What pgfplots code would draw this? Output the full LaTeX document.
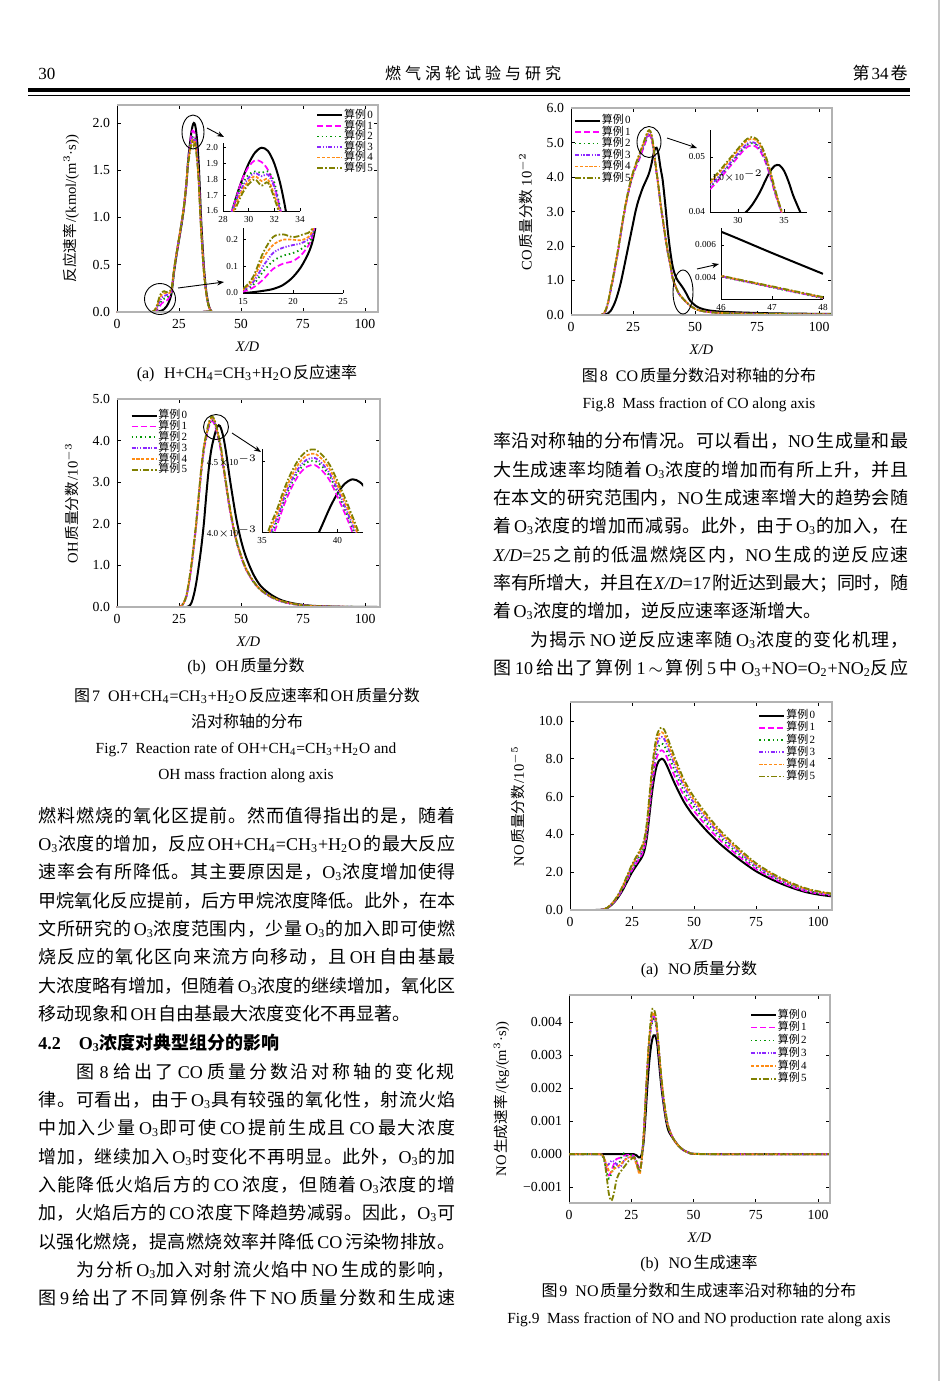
\documentclass[border=0pt]{standalone}
\usepackage{fontspec}
\setmainfont{Liberation Serif}
\newfontfamily\cjkfont{Noto Sans CJK SC}
\usepackage{pgfplots}
\pgfplotsset{compat=1.18}
\usepackage{pgfplotstable}
\usetikzlibrary{arrows.meta}

% ---- automatic CJK font switching ----
\XeTeXinterchartokenstate=1
\newXeTeXintercharclass\CJKcls
\newXeTeXintercharclass\CJKpcls
\newcount\cjkcnt
\def\cjkrange#1#2#3{\cjkcnt=#1\relax\loop\XeTeXcharclass\cjkcnt=#3\relax\ifnum\cjkcnt<#2\advance\cjkcnt by 1\relax\repeat}
\cjkrange{"3000}{"303F}{\CJKpcls}
\cjkrange{"4E00}{"9FFF}{\CJKcls}
\cjkrange{"FF01}{"FF5E}{\CJKpcls}
\def\cjkglue{\hskip 0pt plus 1pt minus 0.2pt\relax}
\def\ecglue{\hskip 0.12em plus 0.1em minus 0.05em\relax}
\XeTeXinterchartoks 0 \CJKcls = {\ecglue\begingroup\cjkfont}
\XeTeXinterchartoks 0 \CJKpcls = {\begingroup\cjkfont}
\XeTeXinterchartoks 4095 \CJKcls = {\begingroup\cjkfont}
\XeTeXinterchartoks 4095 \CJKpcls = {\begingroup\cjkfont}
\XeTeXinterchartoks \CJKcls 0 = {\endgroup\ecglue}
\XeTeXinterchartoks \CJKpcls 0 = {\endgroup}
\XeTeXinterchartoks \CJKcls 4095 = {\endgroup}
\XeTeXinterchartoks \CJKpcls 4095 = {\endgroup}
\XeTeXinterchartoks \CJKcls \CJKcls = {\cjkglue}
\XeTeXinterchartoks \CJKcls \CJKpcls = {\cjkglue}
\XeTeXinterchartoks \CJKpcls \CJKcls = {\cjkglue}
\XeTeXinterchartoks \CJKpcls \CJKpcls = {\cjkglue}

\newcommand\sub[1]{\textsubscript{#1}}
\newcommand\Ot{O\textsubscript{3}}
\newcommand\bodyfont{\fontsize{9}{11}\selectfont}
\newcommand\capfont{\fontsize{8}{9.6}\selectfont}
\newcommand\encapfont{\fontsize{7.7}{9.2}\selectfont}

\definecolor{cMag}{RGB}{255,0,255}
\definecolor{cGreen}{RGB}{0,150,0}
\definecolor{cViolet}{RGB}{140,40,255}
\definecolor{cOrange}{RGB}{255,140,20}
\definecolor{cOlive}{RGB}{128,128,0}

\pgfplotsset{
 s0/.style={black, line width=1pt, solid, smooth},
 s1/.style={cMag, line width=0.85pt, dash pattern=on 3pt off 1.5pt, smooth},
 s2/.style={cGreen, line width=0.9pt, dash pattern=on 0.7pt off 1.5pt, smooth},
 s3/.style={cViolet, line width=0.9pt, dash pattern=on 2pt off 0.8pt on 0.6pt off 0.8pt on 0.6pt off 0.8pt, smooth},
 s4/.style={cOrange, line width=0.85pt, dash pattern=on 1.6pt off 0.8pt, smooth},
 s5/.style={cOlive, line width=0.9pt, dash pattern=on 3pt off 1pt on 0.8pt off 1pt, smooth},
 mainax/.style={scale only axis, anchor=south west, ymin=0, xmin=0,
   xtick={0,25,50,75,100},
   tick label style={font=\fontsize{6.9}{7.5}\selectfont},
   /pgf/number format/assume math mode=true,
   label style={font=\fontsize{7.3}{8}\selectfont},
   xlabel={\textit{X/D}},
   major tick length=2.2pt,
   tick style={black, line width=0.35pt},
   axis line style={line width=0.4pt},
   yticklabel style={/pgf/number format/fixed, /pgf/number format/fixed zerofill, /pgf/number format/precision=1},
   scaled ticks=false,
   legend cell align=left,
   legend image code/.code={\draw[##1] (0pt,0pt) -- (12.5pt,0pt);},
   legend style={draw=none, fill=none, font=\fontsize{5.5}{5.8}\selectfont, inner sep=0pt, nodes={inner sep=0.4pt}, row sep=-1pt},
   legend entries={算例0,算例1,算例2,算例3,算例4,算例5},
 },
 insetax/.style={scale only axis, anchor=south west, axis lines*=left,
   tick label style={font=\fontsize{4.6}{5}\selectfont},
   /pgf/number format/assume math mode=true,
   major tick length=1.5pt, tick style={black, line width=0.3pt},
   axis line style={line width=0.4pt}, scaled ticks=false,
   xticklabel style={yshift=1pt}, yticklabel style={xshift=1pt}},
}

\newcommand\sixplots[1]{%
 \addplot[s0] table[x=x,y=c0]{#1};
 \addplot[s1] table[x=x,y=c1]{#1};
 \addplot[s2] table[x=x,y=c2]{#1};
 \addplot[s3] table[x=x,y=c3]{#1};
 \addplot[s4] table[x=x,y=c4]{#1};
 \addplot[s5] table[x=x,y=c5]{#1};
}

% Fig 7a: H+CH4=CH3+H2O reaction rate
\pgfplotstableread{
x     c0    c1    c2    c3    c4    c5
0     0     0     0     0     0     0
10    0     0     0     0     0     0
14    0     0     0     0     0     0
15    0     0.005 0.01  0.01  0.012 0.015
16    0.003 0.02  0.03  0.04  0.05  0.06
17    0.008 0.05  0.08  0.10  0.13  0.15
18    0.015 0.09  0.12  0.15  0.18  0.21
19    0.03  0.11  0.14  0.17  0.20  0.22
20    0.06  0.12  0.15  0.18  0.20  0.21
21    0.11  0.15  0.17  0.19  0.20  0.22
22    0.20  0.22  0.22  0.23  0.24  0.25
23    0.42  0.43  0.43  0.44  0.45  0.45
24    0.60  0.61  0.61  0.62  0.62  0.62
25    0.76  0.77  0.77  0.78  0.78  0.78
26    0.92  0.93  0.93  0.94  0.94  0.94
27    1.10  1.11  1.11  1.12  1.12  1.12
28    1.35  1.36  1.37  1.37  1.37  1.37
28.5  1.53  1.55  1.55  1.54  1.53  1.52
29    1.68  1.68  1.68  1.66  1.64  1.62
29.5  1.80  1.80  1.77  1.75  1.73  1.71
30    1.90  1.88  1.83  1.81  1.79  1.77
30.5  1.97  1.92  1.85  1.84  1.82  1.80
31    2.00  1.91  1.84  1.82  1.79  1.76
31.5  1.98  1.86  1.85  1.83  1.80  1.78
32    1.90  1.76  1.78  1.75  1.70  1.68
32.5  1.76  1.60  1.60  1.58  1.57  1.55
33    1.55  1.42  1.40  1.38  1.37  1.35
33.5  1.25  1.15  1.12  1.10  1.10  1.08
34    0.95  0.88  0.86  0.85  0.84  0.83
35    0.50  0.46  0.45  0.45  0.44  0.44
36    0.22  0.20  0.20  0.20  0.20  0.20
37    0.07  0.06  0.06  0.06  0.06  0.06
38    0.01  0.01  0.01  0.01  0.01  0.01
39    0     0     0     0     0     0
105   0     0     0     0     0     0
}\tA

% Fig 7b: OH mass fraction (1e-3)
\pgfplotstableread{
x     c0    c1    c2    c3    c4    c5
0     0     0     0     0     0     0
20    0     0     0     0     0     0
25    0     0     0     0     0     0
26    0     0.03  0.03  0.03  0.03  0.04
27    0     0.10  0.10  0.11  0.11  0.12
28    0     0.25  0.26  0.27  0.28  0.29
29    0.02  0.55  0.57  0.58  0.60  0.62
30    0.10  0.95  0.97  0.99  1.01  1.03
31    0.30  1.45  1.47  1.49  1.51  1.53
32    0.60  2.00  2.02  2.04  2.06  2.08
33    1.00  2.65  2.67  2.69  2.71  2.73
34    1.45  3.25  3.28  3.30  3.33  3.36
35    2.00  3.75  3.78  3.80  3.83  3.86
35.5  2.35  3.92  3.95  3.97  4.00  4.03
36    2.70  4.05  4.08  4.10  4.13  4.16
36.5  3.03  4.20  4.23  4.25  4.28  4.31
37    3.33  4.32  4.35  4.37  4.40  4.43
37.5  3.58  4.41  4.44  4.46  4.49  4.52
38    3.78  4.46  4.49  4.51  4.54  4.57
38.5  3.93  4.47  4.50  4.52  4.55  4.58
39    4.05  4.43  4.46  4.48  4.51  4.54
39.5  4.17  4.36  4.39  4.41  4.44  4.47
40    4.27  4.25  4.28  4.30  4.33  4.36
40.5  4.34  4.13  4.16  4.18  4.21  4.24
41    4.37  4.00  4.03  4.05  4.08  4.11
41.5  4.35  3.86  3.89  3.91  3.94  3.97
42    4.28  3.70  3.73  3.75  3.78  3.81
43    4.05  3.30  3.32  3.33  3.35  3.37
44    3.70  2.90  2.92  2.93  2.95  2.97
45    3.28  2.50  2.52  2.53  2.55  2.57
46    2.88  2.15  2.17  2.18  2.20  2.22
48    2.15  1.60  1.61  1.62  1.63  1.64
50    1.60  1.20  1.21  1.22  1.23  1.24
52    1.20  0.90  0.91  0.91  0.92  0.93
55    0.78  0.60  0.60  0.61  0.61  0.62
58    0.50  0.40  0.40  0.41  0.41  0.41
62    0.30  0.24  0.24  0.24  0.25  0.25
66    0.17  0.14  0.14  0.14  0.15  0.15
70    0.10  0.08  0.08  0.08  0.09  0.09
75    0.05  0.04  0.04  0.04  0.04  0.04
80    0.025 0.02  0.02  0.02  0.02  0.02
90    0.006 0.005 0.005 0.005 0.005 0.005
106   0     0     0     0     0     0
}\tB

% Fig 8: CO mass fraction (1e-2)
\pgfplotstableread{
x     c0    c1    c2    c3    c4    c5
0     0     0     0     0     0     0
10    0     0     0     0     0     0
12    0     0     0     0     0     0
13    0     0.03  0.03  0.03  0.04  0.04
14    0.02  0.12  0.13  0.13  0.14  0.15
15    0.05  0.35  0.36  0.37  0.38  0.40
16    0.12  0.70  0.72  0.73  0.75  0.77
17    0.25  1.05  1.07  1.08  1.10  1.12
18    0.42  1.45  1.47  1.48  1.50  1.52
19    0.65  1.85  1.87  1.88  1.90  1.92
20    0.92  2.30  2.32  2.33  2.35  2.37
21    1.25  2.75  2.77  2.78  2.80  2.82
22    1.60  3.15  3.17  3.18  3.20  3.22
23    1.95  3.50  3.52  3.53  3.55  3.57
24    2.30  3.80  3.82  3.83  3.86  3.88
25    2.65  4.05  4.08  4.09  4.12  4.14
26    3.00  4.25  4.29  4.30  4.34  4.36
27    3.28  4.42  4.46  4.48  4.53  4.56
28    3.50  4.60  4.64  4.66  4.72  4.75
29    3.70  4.80  4.84  4.86  4.92  4.95
30    3.86  5.00  5.04  5.06  5.12  5.15
30.5  3.94  5.10  5.14  5.16  5.22  5.25
31    4.02  5.18  5.22  5.24  5.30  5.33
31.5  4.12  5.21  5.25  5.27  5.33  5.36
32    4.25  5.18  5.22  5.24  5.30  5.33
32.5  4.40  5.08  5.12  5.14  5.19  5.22
33    4.58  4.90  4.93  4.95  4.99  5.02
33.5  4.74  4.65  4.68  4.70  4.73  4.75
34    4.84  4.35  4.37  4.39  4.41  4.43
34.5  4.85  4.10  4.11  4.12  4.13  4.14
35    4.75  3.85  3.86  3.87  3.88  3.89
35.5  4.55  3.55  3.56  3.57  3.58  3.59
36    4.30  3.25  3.26  3.27  3.28  3.29
36.5  4.10  2.98  2.99  3.00  3.01  3.02
37    3.88  2.75  2.76  2.77  2.78  2.79
38    3.20  2.25  2.26  2.27  2.28  2.29
39    2.45  1.80  1.81  1.82  1.83  1.84
40    1.85  1.45  1.46  1.46  1.47  1.48
41    1.40  1.05  1.05  1.06  1.06  1.07
42    1.15  0.85  0.85  0.85  0.86  0.86
43    1.00  0.68  0.68  0.68  0.69  0.69
44    0.90  0.56  0.56  0.56  0.57  0.57
45    0.80  0.48  0.48  0.48  0.48  0.49
46    0.683 0.406 0.404 0.405 0.407 0.409
47    0.55  0.337 0.336 0.338 0.340 0.342
48    0.42  0.270 0.268 0.270 0.272 0.275
50    0.28  0.18  0.18  0.18  0.18  0.18
52    0.20  0.13  0.13  0.13  0.13  0.13
55    0.14  0.09  0.09  0.09  0.09  0.09
60    0.10  0.06  0.06  0.06  0.06  0.06
70    0.07  0.04  0.04  0.04  0.04  0.04
80    0.05  0.03  0.03  0.03  0.03  0.03
90    0.04  0.025 0.025 0.025 0.025 0.025
105.2 0.03  0.02  0.02  0.02  0.02  0.02
}\tC

% Fig 9a: NO mass fraction (1e-5)
\pgfplotstableread{
x     c0    c1    c2    c3    c4    c5
0     0     0     0     0     0     0
10    0     0     0     0     0     0
13    0.02  0.02  0.02  0.02  0.02  0.02
15    0.10  0.11  0.11  0.11  0.12  0.12
17    0.30  0.32  0.33  0.34  0.35  0.36
19    0.60  0.63  0.66  0.69  0.70  0.72
21    1.00  1.06  1.10  1.14  1.18  1.21
23    1.50  1.58  1.65  1.72  1.76  1.81
25    2.00  2.11  2.20  2.29  2.35  2.41
27    2.40  2.53  2.64  2.75  2.82  2.89
29    2.80  2.95  3.08  3.20  3.29  3.38
30    3.15  3.33  3.47  3.60  3.70  3.80
31    3.85  4.07  4.24  4.40  4.52  4.64
32    5.00  5.28  5.50  5.72  5.88  6.03
33    6.15  6.49  6.77  7.04  7.23  7.42
34    7.05  7.44  7.76  8.07  8.28  8.50
35    7.65  8.08  8.42  8.75  8.99  9.23
36    7.92  8.36  8.71  9.06  9.31  9.55
37    8.00  8.45  8.80  9.15  9.40  9.65
38    7.90  8.34  8.69  9.04  9.28  9.53
39    7.65  8.08  8.42  8.75  8.99  9.23
40    7.35  7.76  8.09  8.41  8.64  8.86
42    6.75  7.13  7.43  7.72  7.93  8.14
44    6.20  6.55  6.82  7.09  7.29  7.48
46    5.70  6.02  6.27  6.52  6.70  6.87
48    5.30  5.60  5.83  6.06  6.23  6.39
50    4.95  5.23  5.45  5.66  5.82  5.97
55    4.20  4.44  4.62  4.80  4.94  5.07
60    3.55  3.75  3.91  4.06  4.17  4.28
65    3.00  3.17  3.30  3.43  3.53  3.62
70    2.50  2.64  2.75  2.86  2.94  3.02
75    2.05  2.16  2.26  2.35  2.41  2.47
80    1.70  1.80  1.87  1.94  2.00  2.05
85    1.40  1.48  1.54  1.60  1.65  1.69
90    1.15  1.21  1.27  1.32  1.35  1.39
95    0.95  1.00  1.05  1.09  1.12  1.15
100   0.82  0.87  0.90  0.94  0.96  0.99
105.6 0.72  0.76  0.79  0.82  0.85  0.87
}\tD

% Fig 9b: NO production rate kg/(m3 s)
\pgfplotstableread{
x     c0        c1        c2        c3        c4        c5
0     0         0         0         0         0         0
12    0         0         0         0         0         0
13    0         -0.00002  -0.00002  -0.00002  -0.00002  -0.00003
14    0         -0.0001   -0.00015  -0.0001   -0.0001   -0.0001
15    0         -0.0004   -0.0005   -0.00033  -0.0003   -0.0006
16    0         -0.00064  -0.00074  -0.0003   -0.0005   -0.0012
17    0         -0.0005   -0.0006   -0.0002   -0.00055  -0.00141
18    0         -0.0003   -0.0004   -0.00022  -0.00045  -0.0012
19    0         -0.00015  -0.0003   -0.0003   -0.0004   -0.0008
20    0         -0.00012  -0.0003   -0.0004   -0.00035  -0.0006
21    0         -0.0001   -0.0001   -0.00035  -0.0003   -0.0005
22    0         -0.00005  0.00002   -0.0002   -0.0002   -0.0004
23    0         -0.00003  -0.00005  -0.00012  -0.00015  -0.0003
24    0         -0.00002  -0.00005  -0.0001   -0.0001   -0.0002
25    0         -0.00002  -0.00003  -0.00008  -0.00008  -0.00015
26    0         -0.00005  -0.00005  -0.0001   -0.0001   -0.0001
27    -0.00003  -0.0002   -0.0002   -0.00025  -0.0003   -0.0002
28    -0.0001   -0.0004   -0.00045  -0.0005   -0.00055  -0.0005
28.5  -0.0001   -0.00045  -0.0005   -0.0005   -0.0006   -0.0005
29    -0.00005  -0.0003   -0.0003   -0.0003   -0.0003   -0.0003
29.5  0.0001    0.0001    0.0001    0.0001    0.0001    0.0001
30    0.0004    0.0006    0.0006    0.0006    0.0006    0.0006
30.5  0.0009    0.0013    0.0013    0.0013    0.0013    0.0013
31    0.0015    0.0020    0.0020    0.0020    0.0020    0.0020
31.5  0.0021    0.0026    0.0026    0.0026    0.0027    0.0027
32    0.0026    0.0032    0.0032    0.0032    0.0033    0.0033
32.5  0.0030    0.0036    0.0036    0.0036    0.0037    0.0038
33    0.0033    0.0039    0.0039    0.0039    0.0040    0.0042
33.5  0.0035    0.0041    0.0040    0.0041    0.0042    0.0044
34    0.0036    0.0042    0.0041    0.0042    0.0043    0.0044
34.5  0.0036    0.0041    0.0041    0.0042    0.0042    0.0043
35    0.0035    0.0039    0.0039    0.0040    0.0040    0.0041
35.5  0.0033    0.0036    0.0036    0.0036    0.0037    0.0037
36    0.0029    0.0032    0.0032    0.0032    0.0032    0.0033
37    0.0021    0.0023    0.0023    0.0023    0.0024    0.0024
38    0.0015    0.0016    0.0016    0.0016    0.0017    0.0017
39    0.0010    0.0011    0.0011    0.0011    0.0011    0.0012
40    0.0007    0.0008    0.0008    0.0008    0.0008    0.0008
42    0.00045   0.00045   0.00045   0.00045   0.00045   0.00045
44    0.00025   0.00025   0.00025   0.00025   0.00025   0.00025
46    0.00012   0.00012   0.00012   0.00012   0.00012   0.00012
48    0.00005   0.00005   0.00005   0.00005   0.00005   0.00005
50    0.00001   0.00001   0.00001   0.00001   0.00001   0.00001
60    0         0         0         0         0         0
80    0         0         0         0         0         0
104.8 0         0         0         0         0         0
}\tE

\newcommand\JL[4]{\node[anchor=base west, inner sep=0pt] at (#1,-#2) {\bodyfont\makebox[#3][s]{#4}};}
\newcommand\NL[3]{\node[anchor=base west, inner sep=0pt] at (#1,-#2) {\bodyfont #3};}
\newcommand\CAP[3]{\node[anchor=base, inner sep=0pt] at (#1,-#2) {#3};}

\begin{document}
\begin{tikzpicture}[x=0.5pt,y=0.5pt]
\path[use as bounding box, fill=white] (0,0) rectangle (941,-1381);
\draw[gray!45, line width=1pt] (938.5,0) -- (938.5,-1381);

% header
\node[anchor=base west, inner sep=0pt] at (38,-79) {\fontsize{8.5}{10}\selectfont 30};
\node[anchor=base, inner sep=0pt] at (473,-79) {\fontsize{8}{10}\selectfont\makebox[88pt][s]{燃气涡轮试验与研究}};
\node[anchor=base east, inner sep=0pt] at (908,-79) {\fontsize{8.5}{10}\selectfont 第34卷};
\draw[line width=1.6pt] (28,-90) -- (910,-90);
\draw[line width=0.4pt] (28,-95.5) -- (910,-95.5);

% ================= Fig 7a =================
\begin{axis}[mainax, name=A, at={(58.5pt,-156pt)}, width=130.5pt, height=103.5pt,
  xmax=105.3, ymax=2.19, ytick={0,0.5,1,1.5,2},
  ylabel={反应速率/(kmol/(m$^3$·s))},
  legend style={at={(0.985,0.985)}, anchor=north east, row sep=-1.7pt}]
\sixplots{\tA}
\end{axis}
\draw[gray!60, line width=0.9pt] (A.south west) -- (A.south east) -- (A.north east) -- (A.north west);
\begin{axis}[insetax, at={(111.5pt,-105.5pt)}, width=38.5pt, height=34pt,
  xmin=28, xmax=34, ymin=1.6, ymax=2.03, xtick={28,30,32,34}, ytick={1.6,1.7,1.8,1.9,2.0},
  restrict x to domain=26:36,
  yticklabel style={/pgf/number format/fixed, /pgf/number format/fixed zerofill, /pgf/number format/precision=1}]
\sixplots{\tA}
\end{axis}
\begin{axis}[insetax, at={(121.5pt,-146.5pt)}, width=50pt, height=32.5pt,
  xmin=15, xmax=25, ymin=0, ymax=0.244, xtick={15,20,25}, ytick={0,0.1,0.2},
  restrict x to domain=13:27,
  yticklabel style={/pgf/number format/fixed, /pgf/number format/fixed zerofill, /pgf/number format/precision=1}]
\sixplots{\tA}
\end{axis}
\draw[line width=0.45pt] (193,-132) ellipse [x radius=11, y radius=17];
\draw[line width=0.45pt] (160,-299) circle [radius=15.5];
\draw[line width=0.45pt, -{Stealth[length=3.5pt]}] (207,-128) -- (224,-137);
\draw[line width=0.45pt, -{Stealth[length=3.5pt]}] (178,-288) -- (224,-282);

\CAP{247}{378}{\capfont (a)\hspace{0.6em}H+CH\sub{4}=CH\sub{3}+H\sub{2}O反应速率}

% ================= Fig 7b =================
\begin{axis}[mainax, name=B, at={(58.5pt,-303.5pt)}, width=131.5pt, height=104pt,
  xmax=106, ymax=5, ytick={0,1,2,3,4,5},
  ylabel={OH质量分数/10$^{-3}$},
  legend style={at={(0.05,0.955)}, anchor=north west, row sep=-1.55pt}]
\sixplots{\tB}
\end{axis}
\draw[gray!60, line width=0.9pt] (B.south west) -- (B.south east) -- (B.north east) -- (B.north west);
\begin{axis}[insetax, at={(131pt,-266pt)}, width=50.5pt, height=41.5pt,
  xmin=35, xmax=41.7, ymin=4.0, ymax=4.583, xtick={35,40}, ytick={4.0,4.5},
  restrict x to domain=33:44,
  yticklabels={4.0$\times$10$^{-3}$,4.5$\times$10$^{-3}$}]
\sixplots{\tB}
\end{axis}
\draw[line width=0.45pt] (216,-427) circle [radius=12.5];
\draw[line width=0.45pt, -{Stealth[length=3.5pt]}] (232,-433) -- (261,-452);
\CAP{246}{671}{\capfont (b)\hspace{0.6em}OH质量分数}
\CAP{247}{701}{\capfont 图7\hspace{0.5em}OH+CH\sub{4}=CH\sub{3}+H\sub{2}O反应速率和OH质量分数}
\CAP{247}{727}{\capfont 沿对称轴的分布}
\CAP{246}{753}{\encapfont Fig.7\hspace{0.5em}Reaction rate of OH+CH\sub{4}=CH\sub{3}+H\sub{2}O and}
\CAP{246}{779}{\encapfont OH mass fraction along axis}

% ================= Fig 8 =================
\begin{axis}[mainax, name=C, at={(285.5pt,-157.5pt)}, width=130.5pt, height=103.5pt,
  xmax=105.2, ymax=6, ytick={0,1,2,3,4,5,6},
  ylabel={CO质量分数 10$^{-2}$},
  legend style={at={(0.01,0.975)}, anchor=north west, row sep=-1.2pt}]
\sixplots{\tC}
\end{axis}
\draw[gray!60, line width=0.9pt] (C.south west) -- (C.south east) -- (C.north east) -- (C.north west);
\begin{axis}[insetax, at={(355pt,-106pt)}, width=48.5pt, height=41pt,
  xmin=26.96, xmax=37.5, ymin=4.0, ymax=5.49, xtick={30,35}, ytick={4,5},
  restrict x to domain=25:39.5,
  yticklabels={0.04,0.05}]
\sixplots{\tC}
\end{axis}
\node[inner sep=0pt, anchor=west] at (712,-176) {\fontsize{4.6}{5}\selectfont 1.0$\times$10$^{-2}$};
\begin{axis}[insetax, at={(360.5pt,-149.5pt)}, width=51pt, height=35.5pt,
  xmin=46, xmax=48, ymin=0.263, ymax=0.706, xtick={46,47,48}, ytick={0.4,0.6},
  restrict x to domain=45:49,
  yticklabels={0.004,0.006}]
\sixplots{\tC}
\end{axis}
\draw[line width=0.45pt] (649,-142) ellipse [x radius=12, y radius=15.5];
\draw[line width=0.45pt] (683,-292) ellipse [x radius=10, y radius=22];
\draw[line width=0.45pt, -{Stealth[length=3.5pt]}] (667,-138) -- (697,-148);
\draw[line width=0.45pt, -{Stealth[length=3.5pt]}] (697,-269) -- (719,-264);
\CAP{699}{381}{\capfont 图8\hspace{0.5em}CO质量分数沿对称轴的分布}
\CAP{699}{408}{\encapfont Fig.8\hspace{0.5em}Mass fraction of CO along axis}

% ================= Fig 9a =================
\begin{axis}[mainax, name=D, at={(285pt,-455pt)}, width=131pt, height=104pt,
  xmax=105.6, ymax=11, ytick={0,2,4,6,8,10},
  ylabel={NO质量分数/10$^{-5}$},
  legend style={at={(0.94,0.97)}, anchor=north east, row sep=-0.85pt}]
\sixplots{\tD}
\end{axis}
\draw[gray!60, line width=0.9pt] (D.south west) -- (D.south east) -- (D.north east) -- (D.north west);
\CAP{699}{974}{\capfont (a)\hspace{0.6em}NO质量分数}

% ================= Fig 9b =================
\begin{axis}[mainax, name=E, at={(284.5pt,-601.5pt)}, width=130.5pt, height=104pt,
  xmax=104.8, ymin=-0.00148, ymax=0.00482,
  ytick={-0.001,0,0.001,0.002,0.003,0.004},
  yticklabels={−0.001,0.000,0.001,0.002,0.003,0.004},
  ylabel={NO生成速率/(kg/(m$^3$·s))},
  legend style={at={(0.915,0.94)}, anchor=north east, row sep=-0.55pt}]
\sixplots{\tE}
\end{axis}
\draw[gray!60, line width=0.9pt] (E.south west) -- (E.south east) -- (E.north east) -- (E.north west);
\CAP{699}{1268}{\capfont (b)\hspace{0.6em}NO生成速率}
\CAP{699}{1296}{\capfont 图9\hspace{0.5em}NO质量分数和生成速率沿对称轴的分布}
\CAP{699}{1323}{\encapfont Fig.9\hspace{0.5em}Mass fraction of NO and NO production rate along axis}

% ================= left column text =================
\JL{38}{822}{208.5pt}{燃料燃烧的氧化区提前。然而值得指出的是，随着}
\JL{38}{850}{208.5pt}{\Ot{}浓度的增加，反应OH+CH\sub{4}=CH\sub{3}+H\sub{2}O的最大反应}
\JL{38}{878.5}{208.5pt}{速率会有所降低。其主要原因是，\Ot{}浓度增加使得}
\JL{38}{907}{208.5pt}{甲烷氧化反应提前，后方甲烷浓度降低。此外，在本}
\JL{38}{935}{208.5pt}{文所研究的\Ot{}浓度范围内，少量\Ot{}的加入即可使燃}
\JL{38}{963.5}{208.5pt}{烧反应的氧化区向来流方向移动，且OH自由基最}
\JL{38}{992}{208.5pt}{大浓度略有增加，但随着\Ot{}浓度的继续增加，氧化区}
\NL{38}{1020}{移动现象和OH自由基最大浓度变化不再显著。}
\NL{38}{1049}{\bfseries 4.2\hspace{1em}\Ot{}浓度对典型组分的影响}
\JL{76.5}{1078}{189pt}{图8给出了CO质量分数沿对称轴的变化规}
\JL{38}{1106}{208.5pt}{律。可看出，由于\Ot{}具有较强的氧化性，射流火焰}
\JL{38}{1134.5}{208.5pt}{中加入少量\Ot{}即可使CO提前生成且CO最大浓度}
\JL{38}{1163}{208.5pt}{增加，继续加入\Ot{}时变化不再明显。此外，\Ot{}的加}
\JL{38}{1191}{208.5pt}{入能降低火焰后方的CO浓度，但随着\Ot{}浓度的增}
\JL{38}{1219.5}{208.5pt}{加，火焰后方的CO浓度下降趋势减弱。因此，\Ot{}可}
\JL{38}{1248}{208.5pt}{以强化燃烧，提高燃烧效率并降低CO污染物排放。}
\JL{76.5}{1276}{189pt}{为分析\Ot{}加入对射流火焰中NO生成的影响，}
\JL{38}{1304.5}{208.5pt}{图9给出了不同算例条件下NO质量分数和生成速}

% ================= right column text =================
\JL{493}{447.5}{207.5pt}{率沿对称轴的分布情况。可以看出，NO生成量和最}
\JL{493}{476}{207.5pt}{大生成速率均随着\Ot{}浓度的增加而有所上升，并且}
\JL{493}{504}{207.5pt}{在本文的研究范围内，NO生成速率增大的趋势会随}
\JL{493}{532.5}{207.5pt}{着\Ot{}浓度的增加而减弱。此外，由于\Ot{}的加入，在}
\JL{493}{561}{207.5pt}{\textit{X/D}=25之前的低温燃烧区内，NO生成的逆反应速}
\JL{493}{589}{207.5pt}{率有所增大，并且在\textit{X/D}=17附近达到最大；同时，随}
\NL{493}{617.5}{着\Ot{}浓度的增加，逆反应速率逐渐增大。}
\JL{530}{646}{189pt}{为揭示NO逆反应速率随\Ot{}浓度的变化机理，}
\JL{493}{674}{207.5pt}{图10给出了算例1\,$\sim$\,算例5中\Ot{}+NO=O\sub{2}+NO\sub{2}反应}
\end{tikzpicture}
\end{document}
